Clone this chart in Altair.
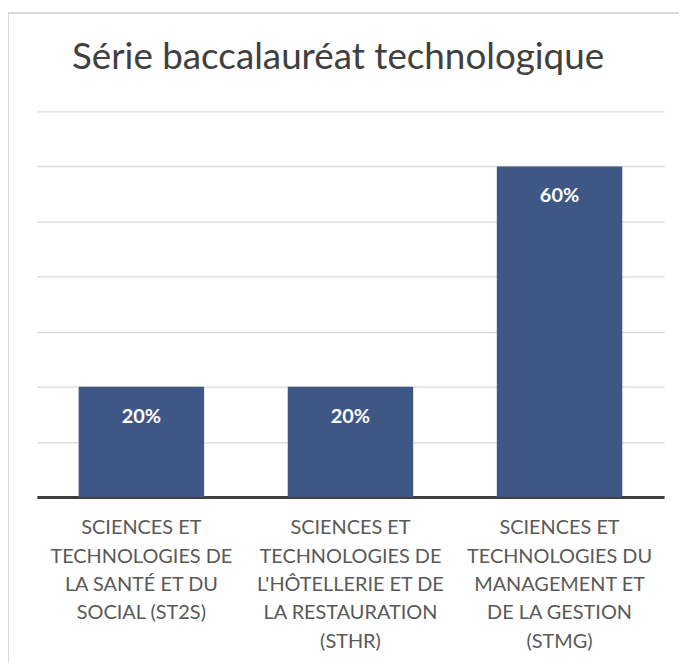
import altair as alt
import pandas as pd

categories = [
    "SCIENCES ET|TECHNOLOGIES DE|LA SANTÉ ET DU|SOCIAL (ST2S)",
    "SCIENCES ET|TECHNOLOGIES DE|L'HÔTELLERIE ET DE|LA RESTAURATION|(STHR)",
    "SCIENCES ET|TECHNOLOGIES DU|MANAGEMENT ET|DE LA GESTION|(STMG)",
]
values = [0.20, 0.20, 0.60]
grid_values = [0, 0.1, 0.2, 0.3, 0.4, 0.5, 0.6, 0.7]
title_text = "Série baccalauréat technologique"

df = pd.DataFrame({"cat": categories, "val": values})

FONT = "Lato"

x_enc = alt.X(
    "cat:N",
    sort=categories,
    title=None,
    scale=alt.Scale(paddingInner=0.4, paddingOuter=0.2),
    axis=alt.Axis(
        labelExpr="split(datum.value, '|')",
        labelAngle=0,
        labelFont=FONT,
        labelFontSize=20,
        labelColor="#595959",
        labelLineHeight=28.5,
        labelPadding=21,
        labelBaseline="top",
        ticks=False,
        domainColor="#404040",
        domainWidth=3,
        grid=False,
        labelLimit=300,
    ),
)
y_enc = alt.Y(
    "val:Q",
    title=None,
    scale=alt.Scale(domain=[0, 0.7], nice=False),
    axis=alt.Axis(
        values=grid_values,
        labels=False,
        ticks=False,
        domain=False,
        grid=True,
        gridColor="#d9d9d9",
        gridWidth=1.3,
    ),
)

bars = alt.Chart(df).mark_bar(color="#3f5785").encode(x=x_enc, y=y_enc)

labels = alt.Chart(df).mark_text(
    color="white", font=FONT, fontSize=20, fontWeight="bold", baseline="middle", dy=30
).encode(
    x=alt.X("cat:N", sort=categories),
    y=alt.Y("val:Q"),
    text=alt.Text("val:Q", format=".0%"),
)

border = alt.Chart(pd.DataFrame({"a": [0]})).mark_rect(
    fill=None, stroke="#d0d0d0", strokeWidth=1.5
).encode(
    x=alt.value(-29), x2=alt.value(700), y=alt.value(-99), y2=alt.value(700)
)

title = alt.Chart(pd.DataFrame({"t": [title_text]})).mark_text(
    font=FONT, fontSize=37, color="#404040", baseline="alphabetic", align="center"
).encode(
    text="t:N", x=alt.value(303), y=alt.value(-43)
)

chart = (
    alt.layer(border, bars, labels, title)
    .properties(
        width=631,
        height=388,
        padding={"left": 29, "top": 102, "right": 15, "bottom": 165},
        autosize=alt.AutoSizeParams(type="none"),
    )
    .configure_view(stroke=None)
)

chart.save("out.html", embed_options={"renderer": "svg", "actions": False})
